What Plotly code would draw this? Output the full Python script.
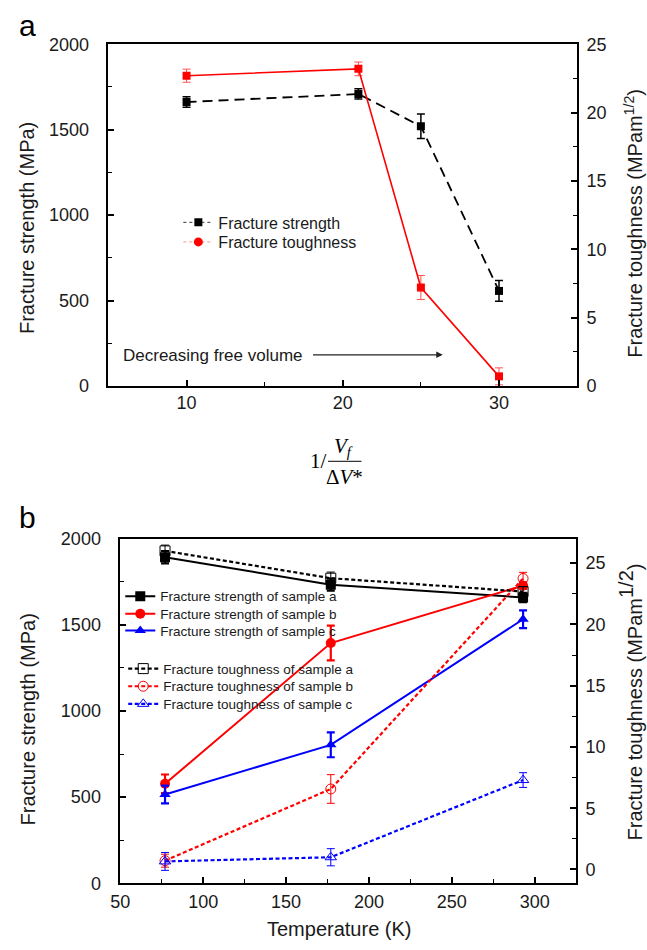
import plotly.graph_objects as go

# ---- panel (a): strength / toughness vs. 1/(Vf/ΔV*) ----
vf_ratio = [10, 21, 25, 30]
strength_vf = [1662, 1709, 1520, 556]
strength_vf_err = [31, 30, 72, 61]
toughness_vf = [22.7, 23.2, 7.2, 0.7]
toughness_vf_err = [0.48, 0.5, 0.88, 0.62]

# ---- panel (b): strength / toughness vs. temperature ----
temperature = [77, 177, 293]
strength_a = [1892, 1733, 1659]
strength_a_err = [36, 35, 27]
strength_b = [577, 1394, 1727]
strength_b_err = [54, 101, 19]
strength_c = [515, 803, 1532]
strength_c_err = [52, 72, 52]
toughness_a = [26.0, 23.77, 22.68]
toughness_a_err = [0.47, 0.5, 0.4]
toughness_b = [0.72, 6.57, 23.75]
toughness_b_err = [0.53, 1.17, 0.5]
toughness_c = [0.66, 1.0, 7.3]
toughness_c_err = [0.73, 0.7, 0.6]

W, H = 647, 950
FONT = "Liberation Sans, Arial, sans-serif"
SERIF = "Liberation Serif, Times New Roman, serif"
BLACK, RED, BLUE = "#000000", "#ff0000", "#0000ff"


def px(x):
    return x / W


def py(y):
    return 1 - y / H


fig = go.Figure()
legends = {}


def err(vals, color, thick, cap=4):
    return dict(type="data", array=vals, visible=True, color=color,
                thickness=thick, width=cap)


def legend_slot(key, left, ymid, size):
    # one legend per entry so the row spacing can be set freely
    legends[key] = dict(x=px(left), y=py(ymid), xanchor="left", yanchor="middle",
                        bgcolor="rgba(0,0,0,0)",
                        font=dict(family=FONT, size=size, color="#1a1a1a"),
                        itemwidth=30, tracegroupgap=0)
    return key


# panel (a) data traces
fig.add_trace(go.Scatter(
    x=vf_ratio, y=strength_vf, xaxis="x", yaxis="y", mode="lines+markers",
    line=dict(color=BLACK, width=1.8, dash="10px,6px"),
    marker=dict(symbol="square", size=8, color=BLACK),
    error_y=err(strength_vf_err, BLACK, 1.5), showlegend=False))
fig.add_trace(go.Scatter(
    x=vf_ratio, y=toughness_vf, xaxis="x", yaxis="y2", mode="lines+markers",
    line=dict(color=RED, width=1.6),
    marker=dict(symbol="square", size=8, color=RED),
    error_y=err(toughness_vf_err, "#ff5050", 1.0), showlegend=False))

# panel (a) legend entries
fig.add_trace(go.Scatter(
    x=[None], y=[None], xaxis="x", yaxis="y", mode="lines+markers",
    name="Fracture strength", legend=legend_slot("legend", 171, 217, 16),
    line=dict(color="#333333", width=1, dash="dot"),
    marker=dict(symbol="square", size=8, color=BLACK)))
fig.add_trace(go.Scatter(
    x=[None], y=[None], xaxis="x", yaxis="y", mode="lines+markers",
    name="Fracture toughness", legend=legend_slot("legend2", 171, 237, 16),
    line=dict(color="#ff9090", width=1, dash="dot"),
    marker=dict(symbol="circle", size=9, color=RED)))

# panel (b) strength traces (left axis)
strength_rows = [599, 617, 634]
for i, (name, vals, e, color, sym) in enumerate([
    ("Fracture strength of sample a", strength_a, strength_a_err, BLACK, "square"),
    ("Fracture strength of sample b", strength_b, strength_b_err, RED, "circle"),
    ("Fracture strength of sample c", strength_c, strength_c_err, BLUE, "triangle-up"),
]):
    fig.add_trace(go.Scatter(
        x=temperature, y=vals, xaxis="x2", yaxis="y3", mode="lines+markers",
        name=name, legend=legend_slot(f"legend{3 + i}", 112, strength_rows[i], 13.5),
        line=dict(color=color, width=2),
        marker=dict(symbol=sym, size=10, color=color),
        error_y=err(e, color, 2.2)))

# panel (b) toughness traces (right axis)
toughness_rows = [673, 691, 709]
for i, (name, vals, e, color, sym) in enumerate([
    ("Fracture toughness of sample a", toughness_a, toughness_a_err, BLACK, "square-open"),
    ("Fracture toughness of sample b", toughness_b, toughness_b_err, RED, "circle-open"),
    ("Fracture toughness of sample c", toughness_c, toughness_c_err, BLUE, "triangle-up-open"),
]):
    fig.add_trace(go.Scatter(
        x=temperature, y=vals, xaxis="x2", yaxis="y4", mode="lines+markers",
        name=name, legend=legend_slot(f"legend{6 + i}", 115, toughness_rows[i], 13.5),
        line=dict(color=color, width=2.2, dash="4px,2.5px"),
        marker=dict(symbol=sym, size=10, color=color, line=dict(width=1)),
        error_y=err(e, color, 1.0)))

tickfont = dict(family=FONT, size=18, color="#1a1a1a")


def axis(**kw):
    base = dict(showline=True, linecolor=BLACK, linewidth=1.5, ticks="inside",
                ticklen=6, tickwidth=1.5, tickcolor=BLACK, showgrid=False,
                zeroline=False, tickfont=tickfont)
    base.update(kw)
    return base


def minor_inside(n):
    return dict(ticks="inside", ticklen=4, tickwidth=1.2, tickcolor=BLACK, dtick=n)


# plot-area boxes (pixels)
A = dict(l=100, r=576, t=35, b=384)
B = dict(l=112, r=575, t=540, b=892)

layout = dict(
    width=W, height=H, margin=dict(l=0, r=0, t=0, b=0),
    paper_bgcolor="white", plot_bgcolor="white",
    font=dict(family=FONT, color="#1a1a1a"),
    xaxis=axis(domain=[px(A["l"]), px(A["r"])], anchor="y", range=[5, 35],
               tickvals=[10, 20, 30], minor=minor_inside(5), mirror=True,
               ticklabelstandoff=0),
    yaxis=axis(domain=[py(A["b"]), py(A["t"])], anchor="x", range=[0, 2000],
               dtick=500, minor=minor_inside(250), ticklabelstandoff=14),
    yaxis2=axis(domain=[py(A["b"]), py(A["t"])], anchor="x", overlaying="y",
                side="right", range=[0, 25], dtick=5,
                minor=minor_inside(2.5), ticklabelstandoff=4),
    xaxis2=axis(domain=[px(B["l"]), px(B["r"])], anchor="y3", range=[50, 325],
                dtick=50, minor=minor_inside(25), mirror=True,
                ticklabelstandoff=1),
    yaxis3=axis(domain=[py(B["b"]), py(B["t"])], anchor="x2", range=[0, 2000],
                dtick=500, minor=minor_inside(250), ticklabelstandoff=14),
    yaxis4=axis(domain=[py(B["b"]), py(B["t"])], anchor="x2", overlaying="y3",
                side="right", range=[-1.12, 27.0], tickvals=[0, 5, 10, 15, 20, 25],
                minor=dict(ticks="inside", ticklen=4, tickwidth=1.2,
                           tickcolor=BLACK, tickvals=[2.5, 7.5, 12.5, 17.5, 22.5]),
                ticklabelstandoff=4),
)
layout.update(legends)

title_font = dict(family=FONT, size=20, color="#1a1a1a")
ann = [
    # panel letters
    dict(text="a", x=px(7), y=py(-3), xanchor="left", yanchor="top",
         font=dict(family=FONT, size=30, color=BLACK)),
    dict(text="b", x=px(7), y=py(500), xanchor="left", yanchor="top",
         font=dict(family=FONT, size=30, color=BLACK)),
    # panel (a) axis titles
    dict(text="Fracture strength (MPa)", x=px(18), y=py(223), textangle=-90,
         xanchor="center", yanchor="middle", font=title_font),
    dict(text="Fracture toughness (MPam<sup>1/2</sup>)", x=px(633), y=py(218),
         textangle=-90, xanchor="center", yanchor="middle", font=title_font),
    dict(text="Decreasing free volume", x=px(113), y=py(353), xanchor="left",
         yanchor="middle", font=dict(family=FONT, size=17, color="#1a1a1a")),
    # panel (a) x title: 1/(Vf/ΔV*)
    dict(text="1/", x=px(313), y=py(461), xanchor="center", yanchor="middle",
         font=dict(family=SERIF, size=21, color=BLACK)),
    dict(text="<i>V<sub>f</sub></i>", x=px(339), y=py(446), xanchor="center",
         yanchor="middle", font=dict(family=SERIF, size=21, color=BLACK)),
    dict(text="Δ<i>V</i>*", x=px(340), y=py(477), xanchor="center",
         yanchor="middle", font=dict(family=SERIF, size=21, color=BLACK)),
    # panel (b) axis titles
    dict(text="Fracture strength (MPa)", x=px(18), y=py(725), textangle=-90,
         xanchor="center", yanchor="middle", font=title_font),
    dict(text="Fracture toughness (MPam<sup><span style='font-size:20px'>1/2</span></sup>)",
         x=px(630), y=py(707), textangle=-90, xanchor="center", yanchor="middle",
         font=title_font),
    dict(text="Temperature (K)", x=px(335), y=py(939), xanchor="center",
         yanchor="middle", font=title_font),
]
for a in ann:
    a.update(xref="paper", yref="paper", showarrow=False)

# arrow next to "Decreasing free volume" (drawn in data units of panel a)
ann.append(dict(x=26.4, y=182, ax=18.0, ay=182, xref="x", yref="y",
                axref="x", ayref="y", text="", showarrow=True, arrowhead=2,
                arrowsize=1, arrowwidth=1.3, arrowcolor="#222222"))

layout["annotations"] = ann
layout["shapes"] = [dict(type="line", xref="paper", yref="paper",
                         x0=px(323), x1=px(357), y0=py(461), y1=py(461),
                         line=dict(color=BLACK, width=1))]

fig.update_layout(**layout)
fig.write_html("out.html")
